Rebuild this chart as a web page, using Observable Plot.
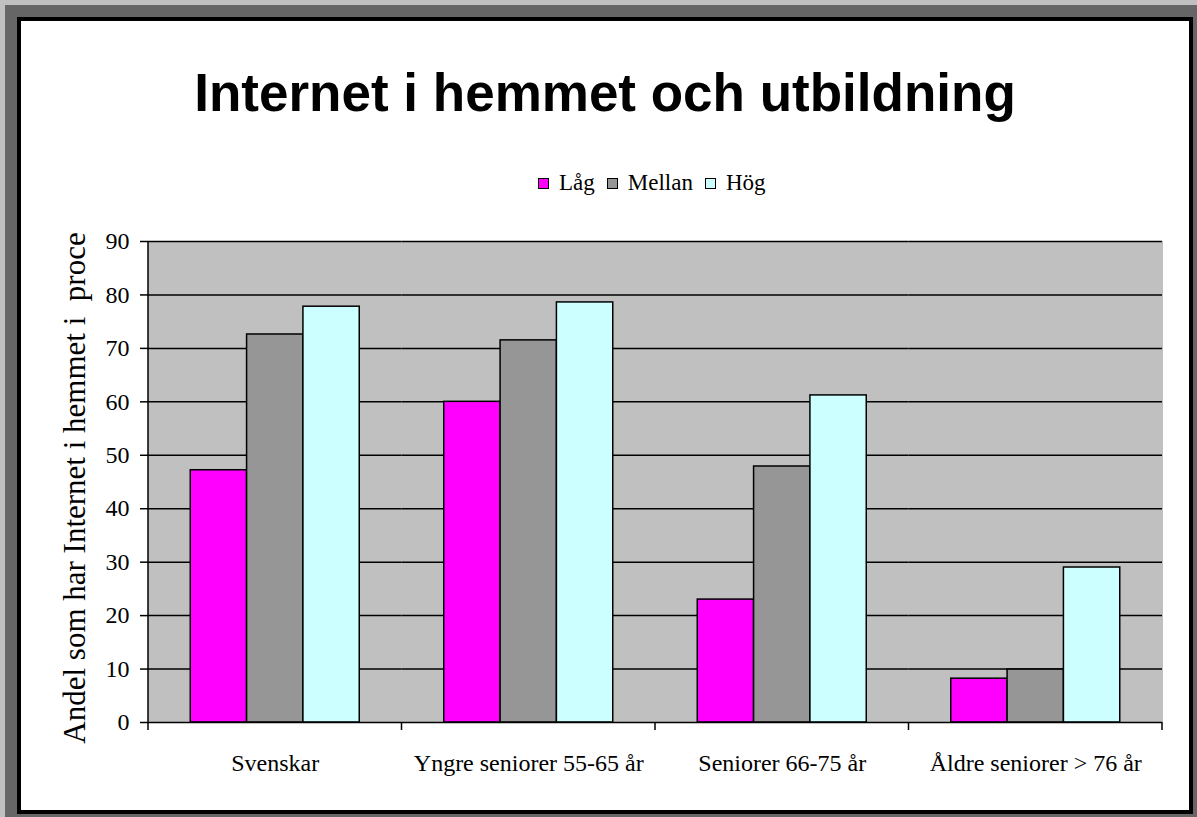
<!DOCTYPE html>
<html>
<head>
<meta charset="utf-8">
<script src="https://cdn.jsdelivr.net/npm/d3@7"></script>
<script src="https://cdn.jsdelivr.net/npm/@observablehq/plot@0.6"></script>
<style>
  html, body { margin: 0; padding: 0; }
  body { width: 1197px; height: 817px; overflow: hidden; position: relative; background: #c0c0c0; }
  #outer { position: absolute; left: 5px; top: 5px; width: 1192px; height: 812px; background: #666666; }
  #inner { position: absolute; left: 17px; top: 17px; width: 1176px; height: 797px; box-sizing: border-box; border: 4px solid #000; background: #fff; }
  #chart { position: absolute; left: 0; top: 0; }
  #title { position: absolute; left: 0; top: 45px; width: 100%; text-align: center; font-family: "Liberation Sans", Arial, sans-serif; font-weight: bold; font-size: 53px; line-height: 53px; color: #000; white-space: nowrap; }
  #legend { position: absolute; left: 517px; top: 150px; display: flex; align-items: center; font-family: "Liberation Serif", "Times New Roman", serif; font-size: 23px; line-height: 23px; color: #000; }
  #legend .item { display: flex; align-items: center; margin-right: 12px; }
  #legend .sw { width: 9px; height: 9px; border: 1.5px solid #000; margin-right: 10px; margin-top: 2px; }
  #ylabel { position: absolute; left: 38px; top: 467px; transform-origin: 0 0; transform: rotate(-90deg) translate(-50%, 0); font-family: "Liberation Serif", "Times New Roman", serif; font-size: 31px; line-height: 31px; white-space: pre; color: #000; }
</style>
</head>
<body>
<div id="outer"></div>
<div id="inner">
  <div id="chart"></div>
  <div id="title"></div>
  <div id="legend"></div>
  <div id="ylabel"></div>
</div>
<script>
const categories = ["Svenskar", "Yngre seniorer 55-65 år", "Seniorer 66-75 år", "Åldre seniorer > 76 år"];
const series = ["Låg", "Mellan", "Hög"];
const lagValues = [47.2, 60.0, 23.0, 8.2];
const mellanValues = [72.6, 71.5, 47.9, 9.9];
const hogValues = [77.8, 78.6, 61.2, 29.0];
const yTicks = [0, 10, 20, 30, 40, 50, 60, 70, 80, 90];
const colors = ["#ff00ff", "#969696", "#ccffff"];
const titleText = "Internet i hemmet och utbildning";
const yLabelText = "Andel som har Internet i hemmet i  proce";

const valuesBySeries = [lagValues, mellanValues, hogValues];
const data = [];
categories.forEach((c, i) => {
  series.forEach((s, j) => data.push({category: c, series: s, value: valuesBySeries[j][i]}));
});

document.getElementById("title").textContent = titleText;
document.getElementById("ylabel").textContent = yLabelText;
const legend = document.getElementById("legend");
series.forEach((s, j) => {
  const item = document.createElement("div");
  item.className = "item";
  const sw = document.createElement("div");
  sw.className = "sw";
  sw.style.background = colors[j];
  const t = document.createElement("span");
  t.textContent = s;
  item.appendChild(sw);
  item.appendChild(t);
  legend.appendChild(item);
});

const serif = '"Liberation Serif", "Times New Roman", serif';
const plot = Plot.plot({
  width: 1168,
  height: 789,
  marginLeft: 127,
  marginRight: 27,
  marginTop: 220,
  marginBottom: 88,
  style: {background: "transparent", fontFamily: serif, color: "#000", overflow: "visible"},
  fx: {domain: categories, padding: 0, round: false, label: null},
  x: {domain: series, paddingInner: 0, paddingOuter: 0.75, round: false, axis: null},
  y: {domain: [0, 90], label: null},
  color: {domain: series, range: colors},
  marks: [
    Plot.frame({fill: "#c0c0c0", stroke: "#c0c0c0", strokeWidth: 1}),
    Plot.ruleY(yTicks.filter(d => d > 0), {stroke: "#000", strokeWidth: 1.5}),
    Plot.barY(data, {fx: "category", x: "series", y: "value", fill: "series", stroke: "#000", strokeWidth: 1.5}),
    Plot.ruleY([0], {stroke: "#000", strokeWidth: 1.5}),
    Plot.axisY({ticks: yTicks, tickSize: 8, tickPadding: 11, fontSize: 24, label: null, tickFormat: d => String(d), strokeWidth: 1.5}),
    Plot.axisFx({anchor: "bottom", tickSize: 0, tickPadding: 31, fontSize: 24, label: null})
  ]
});
document.getElementById("chart").appendChild(plot);

// axis line and category boundary ticks, positioned with the plot's own scales
const fxS = Plot.scale({fx: plot.scale("fx")});
const yS = Plot.scale({y: plot.scale("y")});
const y0 = yS.apply(0), y90 = yS.apply(90);
const bw = plot.scale("fx").bandwidth;
const svg = d3.select(plot.tagName.toLowerCase() === "svg" ? plot : plot.querySelector("svg"));
const g = svg.append("g").attr("stroke", "#000").attr("stroke-width", 1.5);
const left = fxS.apply(categories[0]);
g.append("line").attr("x1", left).attr("x2", left).attr("y1", y90).attr("y2", y0);
const bounds = categories.map(c => fxS.apply(c)).concat([fxS.apply(categories[categories.length - 1]) + bw]);
bounds.forEach(x => {
  g.append("line").attr("x1", x).attr("x2", x).attr("y1", y0).attr("y2", y0 + 8);
});
</script>
</body>
</html>
